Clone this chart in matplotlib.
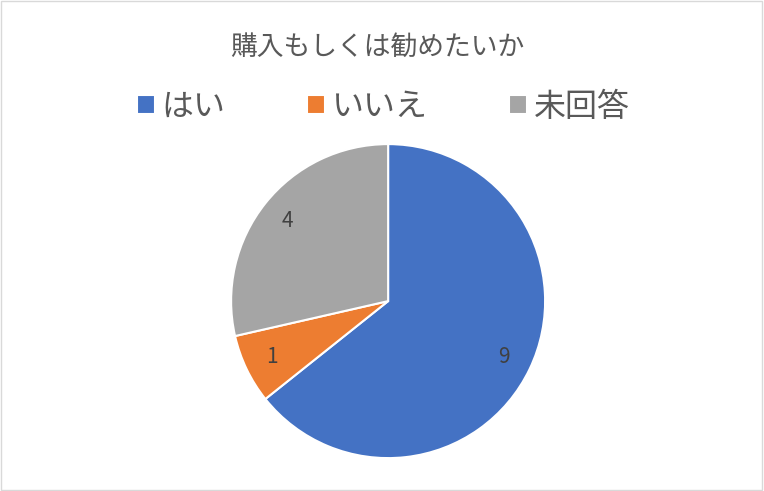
import matplotlib
matplotlib.use('Agg')
import matplotlib.pyplot as plt
from matplotlib.patches import Rectangle

plt.rcParams['font.family'] = ['Noto Sans CJK JP', 'DejaVu Sans']

# データ
labels = ['はい', 'いいえ', '未回答']
counts = [9, 1, 4]
colors = ['#4472C4', '#ED7D31', '#A5A5A5']

fig = plt.figure(figsize=(7.64, 4.91), dpi=100)
fig.patch.set_facecolor('white')

# 外枠
fig.patches.append(Rectangle((0.001, 0.002), 0.997, 0.995, transform=fig.transFigure,
                             fill=False, edgecolor='#D9D9D9', linewidth=1))

ax = fig.add_axes([0.3025, 0.067, 0.411, 0.6395])
total = sum(counts)
wedges, texts, autotexts = ax.pie(
    counts, colors=colors, startangle=90, counterclock=False,
    autopct=lambda p: '%d' % round(p * total / 100), pctdistance=0.82,
    wedgeprops=dict(edgecolor='white', linewidth=1.5),
    textprops=dict(color='#404040', fontsize=15))
ax.set_xlim(-1, 1)
ax.set_ylim(-1, 1)
ax.set_aspect('equal')

fig.text(0.494, 0.904, '購入もしくは勧めたいか', ha='center', va='center',
         fontsize=19.3, color='#595959')

leg = fig.legend(wedges, labels, loc='center', bbox_to_anchor=(0.502, 0.782), ncol=3,
                 frameon=False, fontsize=23, handlelength=0.56, handleheight=0.56,
                 handletextpad=0.22, columnspacing=2.55, labelcolor='#595959')

fig.savefig('out.png', dpi=100)
